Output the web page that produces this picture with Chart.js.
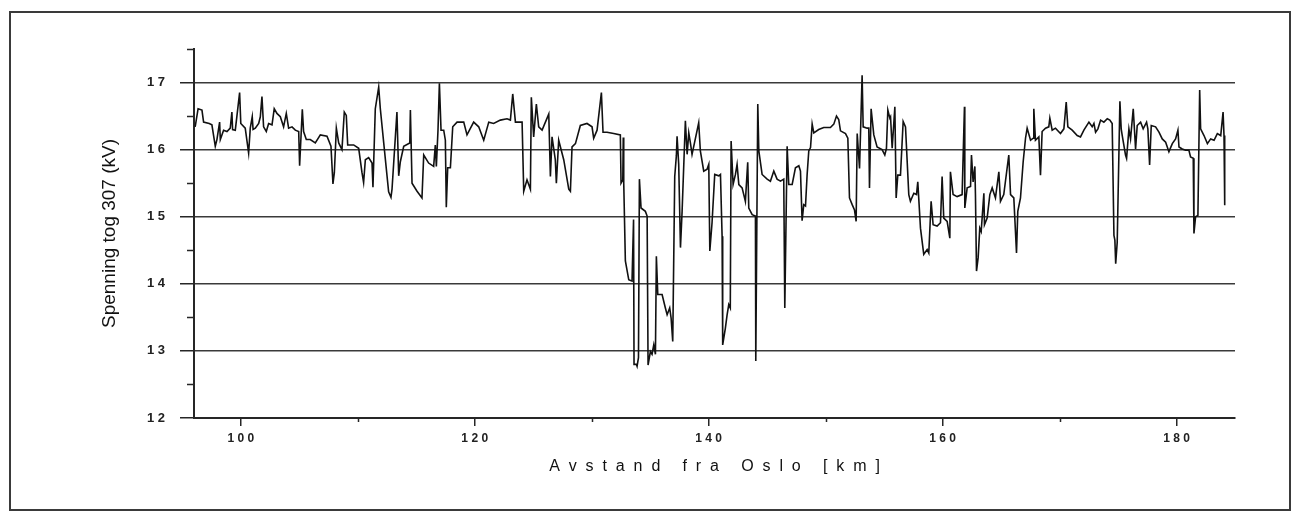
<!DOCTYPE html>
<html lang="no">
<head>
    <meta charset="UTF-8">
    <title>Spenning tog 307</title>
    <script src="https://cdn.jsdelivr.net/npm/chart.js"></script>
    <style>
        html, body { margin: 0; padding: 0; background: #fff; }
        .wrap { position: relative; width: 1294px; height: 512px; }
        .frame {
            position: absolute; left: 9px; top: 11px; width: 1278px; height: 496px;
            border: 2px solid #3a3a3a; pointer-events: none;
        }
        canvas { position: absolute; left: 0; top: 0; }
    </style>
</head>
<body>
    <div class="wrap">
        <canvas id="voltChart" width="1294" height="512"></canvas>
        <div class="frame"></div>
    </div>
    <script>
        // distance from Oslo (km) and voltage (kV)
        const km = [
            96.1, 96.35, 96.68, 96.82, 97.3, 97.53, 97.82, 97.96, 98.19, 98.25, 98.53, 98.82, 99.1, 99.24, 99.3, 99.53, 99.9, 100.0,
            100.38, 100.67, 100.81, 100.98, 101.05, 101.24, 101.53, 101.67, 101.81, 101.95, 102.18, 102.38, 102.67, 102.86, 103.09,
            103.38, 103.66, 103.89, 104.09, 104.38, 104.66, 104.95, 105.03, 105.26, 105.37, 105.6, 105.94, 106.37, 106.8, 107.37,
            107.71, 107.88, 108.0, 108.17, 108.37, 108.65, 108.85, 109.02, 109.14, 109.65, 110.08, 110.36, 110.5, 110.65, 110.93,
            111.22, 111.3, 111.5, 111.79, 111.93, 112.22, 112.64, 112.84, 112.93, 113.35, 113.5, 113.64, 113.93, 114.45, 114.5,
            114.64, 115.07, 115.49, 115.64, 116.06, 116.49, 116.63, 116.72, 116.86, 116.98, 117.12, 117.35, 117.49, 117.57, 117.69,
            117.92, 118.12, 118.49, 119.06, 119.34, 119.91, 120.34, 120.77, 121.2, 121.62, 122.19, 122.76, 123.05, 123.25, 123.48,
            124.05, 124.19, 124.47, 124.76, 124.84, 125.04, 125.27, 125.47, 125.76, 126.33, 126.47, 126.61, 126.89, 126.98, 127.18,
            127.61, 128.04, 128.18, 128.32, 128.61, 129.03, 129.6, 130.03, 130.17, 130.46, 130.83, 130.97, 131.31, 131.88, 132.45,
            132.51, 132.66, 132.7, 132.74, 132.88, 133.17, 133.45, 133.58, 133.62, 133.82, 133.88, 134.0, 134.08, 134.22, 134.59,
            134.74, 134.82, 135.02, 135.16, 135.31, 135.45, 135.53, 135.65, 136.02, 136.3, 136.45, 136.67, 136.79, 136.93, 137.1,
            137.24, 137.3, 137.44, 137.59, 137.73, 138.01, 138.16, 138.3, 138.44, 138.58, 139.15, 139.29, 139.58, 139.87, 140.01,
            140.1, 140.29, 140.52, 140.86, 141.01, 141.15, 141.2, 141.43, 141.58, 141.72, 141.85, 141.92, 142.09, 142.29, 142.43,
            142.58, 142.86, 143.14, 143.34, 143.43, 143.72, 144.0, 144.03, 144.2, 144.29, 144.57, 145.0, 145.28, 145.57, 145.85,
            146.14, 146.42, 146.51, 146.71, 146.85, 147.14, 147.42, 147.71, 147.85, 147.99, 148.13, 148.28, 148.42, 148.56, 148.71,
            148.85, 148.99, 149.41, 149.84, 150.41, 150.7, 150.93, 151.12, 151.27, 151.7, 151.9, 152.04, 152.27, 152.47, 152.61,
            152.7, 152.9, 153.12, 153.21, 153.55, 153.69, 153.75, 153.89, 154.12, 154.4, 154.83, 155.06, 155.2, 155.32, 155.49,
            155.55, 155.69, 155.92, 156.03, 156.17, 156.4, 156.63, 156.83, 157.11, 157.25, 157.54, 157.77, 157.88, 158.11, 158.39,
            158.68, 158.82, 159.02, 159.19, 159.53, 159.82, 159.96, 160.1, 160.39, 160.62, 160.67, 160.9, 161.24, 161.67, 161.87,
            161.9, 162.1, 162.39, 162.47, 162.61, 162.76, 162.81, 162.9, 163.04, 163.18, 163.3, 163.53, 163.58, 163.81, 164.04,
            164.24, 164.52, 164.81, 164.95, 165.23, 165.66, 165.81, 166.09, 166.32, 166.43, 166.66, 166.89, 167.09, 167.23, 167.52,
            167.75, 167.8, 167.94, 168.23, 168.37, 168.51, 168.8, 169.08, 169.17, 169.37, 169.65, 170.08, 170.37, 170.57, 170.71,
            171.08, 171.51, 171.79, 172.08, 172.51, 172.79, 172.94, 173.08, 173.28, 173.51, 173.79, 174.08, 174.3, 174.5, 174.65,
            174.73, 174.8, 174.93, 175.16, 175.27, 175.36, 175.64, 175.73, 175.93, 176.07, 176.3, 176.5, 176.64, 176.93, 177.15,
            177.44, 177.55, 177.7, 177.84, 178.21, 178.5, 178.78, 179.07, 179.35, 179.64, 179.92, 180.12, 180.21, 180.49, 180.78,
            181.06, 181.2, 181.43, 181.49, 181.63, 181.83, 181.98, 182.06, 182.35, 182.64, 182.92, 183.21, 183.49, 183.78, 183.98,
            184.06, 184.12
        ];
        const kv = [
            16.34, 16.61, 16.59, 16.41, 16.39, 16.37, 16.05, 16.15, 16.41, 16.15, 16.29, 16.27, 16.32, 16.56, 16.3, 16.29, 16.85, 16.39,
            16.32, 15.95, 16.32, 16.49, 16.3, 16.32, 16.39, 16.49, 16.79, 16.34, 16.27, 16.39, 16.37, 16.61, 16.54,
            16.49, 16.34, 16.54, 16.32, 16.34, 16.29, 16.27, 15.76, 16.6, 16.27, 16.15, 16.15, 16.1, 16.22, 16.2,
            16.05, 15.49, 15.66, 16.32, 16.1, 16.0, 16.56, 16.51, 16.07, 16.07, 16.02, 15.66, 15.51, 15.85, 15.88,
            15.8, 15.44, 16.61, 16.93, 16.61, 16.1, 15.37, 15.29, 15.41, 16.56, 15.61, 15.82, 16.05, 16.1, 16.59,
            15.5, 15.38, 15.28, 15.92, 15.8, 15.75, 16.07, 15.75, 16.29, 16.99, 16.29, 16.29, 16.14, 15.14, 15.73,
            15.73, 16.34, 16.41, 16.41, 16.22, 16.41, 16.34, 16.14, 16.41, 16.39, 16.44, 16.46, 16.44, 16.83, 16.41,
            16.41, 15.38, 15.55, 15.41, 16.78, 16.19, 16.68, 16.34, 16.29, 16.53, 15.6, 16.19, 15.85, 15.5, 16.14,
            15.85, 15.41, 15.38, 16.04, 16.09, 16.36, 16.39, 16.34, 16.17, 16.29, 16.85, 16.26, 16.26, 16.24, 16.22,
            15.5, 15.55, 16.18, 15.51, 14.34, 14.06, 14.04, 14.96, 12.8, 12.8, 12.77, 12.9, 15.56, 15.13, 15.08,
            15.01, 12.79, 12.99, 12.95, 13.09, 12.95, 14.41, 13.84, 13.84, 13.64, 13.54, 13.64, 13.49, 13.14, 15.6,
            15.91, 16.2, 15.78, 14.54, 15.08, 16.43, 15.93, 16.25, 16.1, 15.93, 16.4, 15.98, 15.68, 15.71, 15.78,
            14.49, 14.91, 15.63, 15.61, 15.63, 14.71, 13.09, 13.34, 13.54, 13.69, 13.64, 16.13, 15.48, 15.63, 15.78,
            15.48, 15.43, 15.23, 15.81, 15.13, 15.03, 15.01, 12.85, 16.68, 15.98, 15.63, 15.56, 15.53, 15.68, 15.56,
            15.53, 15.56, 13.64, 16.05, 15.48, 15.48, 15.73, 15.76, 15.68, 14.94, 15.18, 15.16, 15.63, 15.98, 16.03,
            16.38, 16.25, 16.3, 16.33, 16.33, 16.38, 16.5, 16.45, 16.28, 16.24, 16.17, 15.28, 15.18, 15.1, 14.93,
            16.24, 15.72, 17.11, 16.34, 16.32, 16.32, 15.43, 16.61, 16.22, 16.04, 16.0, 15.92, 16.02, 16.59, 16.47,
            16.49, 16.02, 16.64, 15.28, 15.62, 15.62, 16.42, 16.34, 15.33, 15.23, 15.35, 15.33, 15.52, 14.83, 14.44,
            14.51, 14.46, 15.23, 14.88, 14.86, 14.91, 15.6, 14.98, 14.93, 14.68, 15.67, 15.33, 15.3, 15.33, 16.64,
            15.13, 15.43, 15.45, 15.92, 15.52, 15.75, 15.33, 14.19, 14.39, 14.83, 14.78, 15.35, 14.88, 14.98, 15.33,
            15.43, 15.28, 15.67, 15.23, 15.33, 15.92, 15.33, 15.28, 14.46, 15.08, 15.28, 15.82, 16.17, 16.32, 16.14,
            16.17, 16.61, 16.14, 16.19, 15.62, 16.27, 16.32, 16.34, 16.47, 16.29, 16.32, 16.24, 16.31, 16.71, 16.34,
            16.29, 16.21, 16.19, 16.29, 16.41, 16.34, 16.39, 16.26, 16.31, 16.44, 16.41, 16.46, 16.44, 16.39, 14.72,
            14.65, 14.3, 14.62, 16.72, 16.31, 16.21, 15.92, 15.87, 16.31, 16.16, 16.61, 16.01, 16.36, 16.41, 16.31,
            16.41, 16.31, 15.77, 16.36, 16.34, 16.26, 16.16, 16.11, 15.97, 16.09, 16.16, 16.29, 16.04, 16.01, 15.99,
            15.99, 15.89, 15.87, 14.75, 15.0, 15.02, 16.89, 16.31, 16.21, 16.09, 16.16, 16.14, 16.24, 16.21, 16.56,
            16.21, 15.17
        ];
        const xMajorTicks = [100, 120, 140, 160, 180];
        const yMajorTicks = [12, 13, 14, 15, 16, 17];

        // tick labels in the original are printed with gaps between digits
        const spaced = v => String(v).split('').join(' ');
        const ink = '#262626';

        // short minor tick marks (major ones come from Chart.js itself)
        const minorTicks = {
            id: 'minorTicks',
            afterDraw(chart) {
                const ctx = chart.ctx;
                const area = chart.chartArea;
                const xs = chart.scales.x, ys = chart.scales.y;
                ctx.save();
                ctx.strokeStyle = ink;
                ctx.lineWidth = 1.5;
                ctx.beginPath();
                ys.ticks.forEach(t => {
                    if (yMajorTicks.includes(t.value)) return;
                    const y = Math.round(ys.getPixelForValue(t.value)) + 0.5;
                    ctx.moveTo(area.left - 7, y);
                    ctx.lineTo(area.left, y);
                });
                xs.ticks.forEach(t => {
                    if (xMajorTicks.includes(t.value)) return;
                    const x = Math.round(xs.getPixelForValue(t.value)) + 0.5;
                    ctx.moveTo(x, area.bottom);
                    ctx.lineTo(x, area.bottom + 4);
                });
                ctx.stroke();
                ctx.restore();
            }
        };

        new Chart(document.getElementById('voltChart'), {
            type: 'line',
            data: {
                datasets: [{
                    data: km.map((x, i) => ({ x: x, y: kv[i] })),
                    borderColor: '#111',
                    borderWidth: 1.6,
                    pointRadius: 0,
                    tension: 0,
                    fill: false
                }]
            },
            options: {
                responsive: false,
                animation: false,
                devicePixelRatio: 1,
                layout: { padding: { left: 95, top: 49, right: 59, bottom: 34 } },
                plugins: { legend: { display: false }, tooltip: { enabled: false } },
                scales: {
                    x: {
                        type: 'linear',
                        min: 96,
                        max: 185,
                        afterFit: s => { s.height = 60; },
                        border: { display: true, color: ink, width: 2 },
                        grid: {
                            drawOnChartArea: false,
                            tickLength: 8,
                            lineWidth: 1.5,
                            color: ink,
                            tickColor: c => xMajorTicks.includes(c.tick && c.tick.value) ? ink : 'rgba(0,0,0,0)'
                        },
                        ticks: {
                            stepSize: 10,
                            includeBounds: false,
                            autoSkip: false,
                            maxRotation: 0,
                            padding: 5,
                            color: '#222',
                            font: { family: 'Liberation Sans', size: 12, weight: 'bold' },
                            callback: v => xMajorTicks.includes(v) ? spaced(v) : ''
                        },
                        title: {
                            display: true,
                            text: 'A  v  s  t  a  n  d     f  r  a     O  s  l  o     [  k  m  ]',
                            color: '#111',
                            font: { family: 'Liberation Sans', size: 16 },
                            padding: { top: 4, bottom: 2 }
                        }
                    },
                    y: {
                        min: 12,
                        max: 17.5,
                        afterFit: s => { s.width = 99; },
                        border: { display: true, color: ink, width: 2 },
                        grid: {
                            lineWidth: 1.5,
                            tickLength: 14,
                            color: c => {
                                const v = c.tick && c.tick.value;
                                return yMajorTicks.includes(v) && v > 12 ? '#3a3a3a' : 'rgba(0,0,0,0)';
                            },
                            tickColor: c => yMajorTicks.includes(c.tick && c.tick.value) ? ink : 'rgba(0,0,0,0)'
                        },
                        ticks: {
                            stepSize: 0.5,
                            autoSkip: false,
                            padding: 15,
                            color: '#222',
                            font: { family: 'Liberation Sans', size: 13, weight: 'bold' },
                            callback: v => yMajorTicks.includes(v) ? spaced(v) : ''
                        },
                        title: {
                            display: true,
                            text: 'Spenning tog 307 (kV)',
                            color: '#111',
                            font: { family: 'Liberation Sans', size: 19 },
                            padding: { top: 3, bottom: 4 }
                        }
                    }
                }
            },
            plugins: [minorTicks]
        });
    </script>
</body>
</html>
